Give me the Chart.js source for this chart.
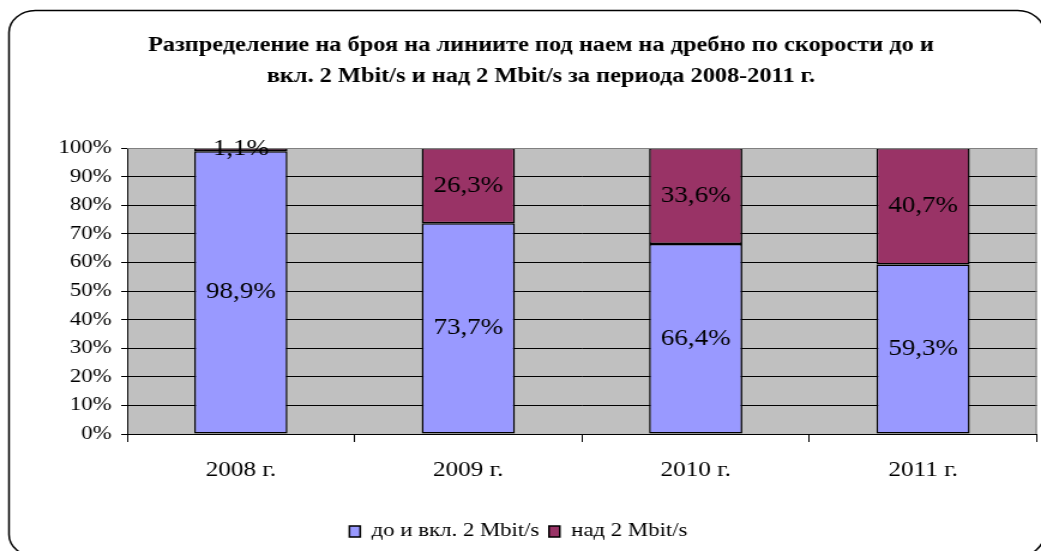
<!DOCTYPE html>
<html>
<head>
<meta charset="utf-8">
<script src="https://cdn.jsdelivr.net/npm/chart.js@4"></script>
<style>
  html, body { margin: 0; padding: 0; background: #fff; overflow: hidden; }
  /* the original picture is a horizontally stretched office chart */
  #wrap { width: 868px; height: 551px; transform: scaleX(1.19931); transform-origin: 0 0; }
</style>
</head>
<body>
<div id="wrap"><canvas id="myChart" width="868" height="551"></canvas></div>
<script>
const years = ["2008 г.", "2009 г.", "2010 г.", "2011 г."];
const upTo2 = [98.9, 73.7, 66.4, 59.3];
const over2 = [1.1, 26.3, 33.6, 40.7];
const seriesNames = ["до и вкл. 2 Mbit/s", "над 2 Mbit/s"];
const titleLines = [
  "Разпределение на броя на линиите под наем на дребно по скорости до и",
  "вкл. 2 Mbit/s и над 2 Mbit/s за периода 2008-2011 г."
];

const serif = "'Liberation Serif', 'Times New Roman', serif";

// grey plot background, frame, title, plot border and value labels
const backdrop = {
  id: "backdrop",
  beforeDraw: (chart) => {
    const ctx = chart.ctx;
    const a = chart.chartArea;
    ctx.save();
    ctx.fillStyle = "#fff";
    ctx.fillRect(0, 0, chart.width, chart.height);
    ctx.strokeStyle = "#000";
    ctx.lineWidth = 1.5;
    ctx.beginPath();
    ctx.roundRect(7.5, 10.5, 863, 546, 22);
    ctx.stroke();
    ctx.fillStyle = "#c0c0c0";
    ctx.fillRect(a.left, a.top, a.right - a.left, a.bottom - a.top);
    // title, centred a bit right of the canvas middle like the original
    ctx.fillStyle = "#000";
    ctx.font = "bold 20.3px " + serif;
    ctx.textAlign = "center";
    ctx.textBaseline = "middle";
    titleLines.forEach((line, i) => ctx.fillText(line, 451, 46 + i * 31));
    ctx.restore();
  },
  afterDatasetsDraw: (chart) => {
    const ctx = chart.ctx;
    const a = chart.chartArea;
    ctx.save();
    ctx.strokeStyle = "#808080";
    ctx.lineWidth = 1;
    ctx.beginPath();
    ctx.moveTo(a.left, a.top + 0.5);
    ctx.lineTo(a.right - 0.5, a.top + 0.5);
    ctx.lineTo(a.right - 0.5, a.bottom);
    ctx.stroke();
    ctx.fillStyle = "#000";
    ctx.font = "22.5px " + serif;
    ctx.textAlign = "center";
    ctx.textBaseline = "middle";
    chart.data.datasets.forEach((ds, i) => {
      chart.getDatasetMeta(i).data.forEach((bar, j) => {
        const y = (bar.y + bar.base) / 2;
        ctx.fillText(ds.data[j].toFixed(1).replace(".", ",") + "%", bar.x, y);
      });
    });
    ctx.restore();
  }
};

new Chart(document.querySelector("#myChart"), {
  type: "bar",
  data: {
    labels: years,
    datasets: [
      { label: seriesNames[0], data: upTo2, backgroundColor: "#9999ff", borderColor: "#000", borderWidth: 1.5, borderSkipped: false },
      { label: seriesNames[1], data: over2, backgroundColor: "#993366", borderColor: "#000", borderWidth: 1.5, borderSkipped: false }
    ]
  },
  options: {
    responsive: false,
    animation: false,
    devicePixelRatio: 1,
    barPercentage: 0.41,
    categoryPercentage: 1,
    layout: { padding: { left: 0, right: 3.5, top: 148, bottom: 0 } },
    plugins: {
      tooltip: { enabled: false },
      title: { display: false },
      legend: {
        position: "bottom",
        labels: {
          color: "#000",
          font: { family: serif, size: 19 },
          boxWidth: 9,
          boxHeight: 11,
          padding: 8
        }
      }
    },
    scales: {
      x: {
        stacked: true,
        offset: true,
        grid: { offset: true, drawOnChartArea: false, color: "#000", tickLength: 8 },
        border: { color: "#000", width: 1 },
        ticks: { color: "#000", font: { family: serif, size: 21 }, padding: 16 },
        afterFit: (s) => { s.height = 80; }
      },
      y: {
        stacked: true,
        min: 0,
        max: 100,
        ticks: { stepSize: 10, color: "#000", font: { family: serif, size: 19 }, padding: 8, callback: (v) => v + "%" },
        grid: { color: "#000", tickLength: 5 },
        border: { color: "#000", width: 1 },
        afterFit: (s) => { s.width = 106; }
      }
    }
  },
  plugins: [backdrop]
});
</script>
</body>
</html>
